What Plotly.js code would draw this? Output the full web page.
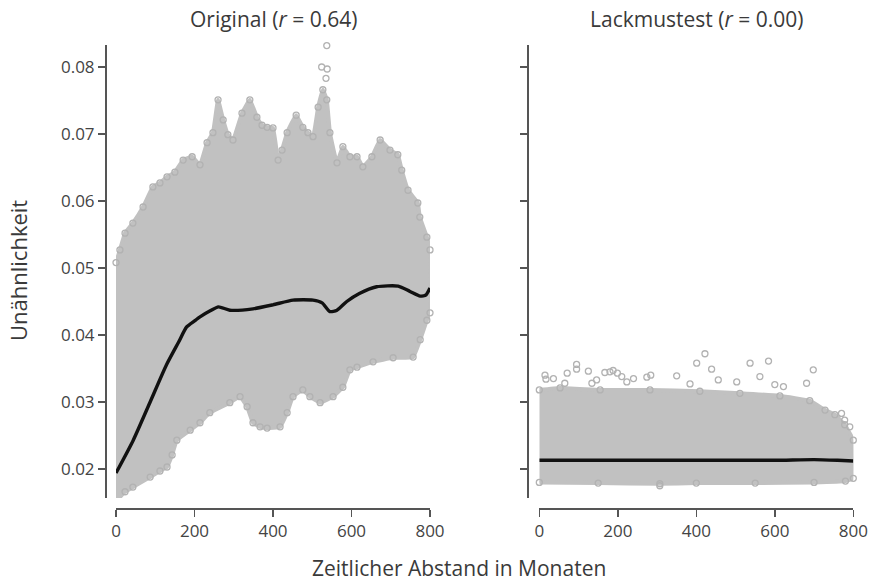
<!DOCTYPE html>
<html>
<head>
<meta charset="utf-8">
<script src="https://cdn.plot.ly/plotly-3.0.1.min.js"></script>
<style>
  html, body { margin: 0; padding: 0; background: #fff; }
  #chart { width: 869px; height: 585px; }
</style>
</head>
<body>
<div id="chart"></div>
<script>
// ---- Original: outline of the point cloud, smoothed trend and stray points ----
const origUpperX = [0, 10, 23, 43, 69, 94, 112, 130, 150, 171, 194, 214, 232, 247, 260, 273, 285, 298, 321, 341,
  359, 372, 385, 400, 413, 423, 436, 459, 476, 489, 502, 515, 527, 537, 545, 563, 578, 596, 614, 629,
  652, 673, 698, 718, 728, 744, 769, 774, 792, 800];
const origUpperY = [0.0508, 0.0527, 0.0552, 0.0567, 0.0591, 0.0621, 0.0627, 0.0636, 0.0643, 0.0661,
  0.0666, 0.0654, 0.0687, 0.0702, 0.0751, 0.0721, 0.0699, 0.0691, 0.0731, 0.0751,
  0.0725, 0.0713, 0.0710, 0.0709, 0.0661, 0.0676, 0.0702, 0.0728, 0.0710, 0.0702,
  0.0696, 0.0740, 0.0766, 0.0751, 0.0702, 0.0657, 0.0681, 0.0666, 0.0666, 0.0651,
  0.0666, 0.0691, 0.0676, 0.0669, 0.0646, 0.0616, 0.0597, 0.0576, 0.0546, 0.0527];
const origLowerX = [0, 3, 23, 43, 87, 112, 130, 143, 155, 189, 214, 239, 290, 316, 334, 349, 367, 385, 418, 436,
  451, 476, 494, 520, 553, 578, 596, 614, 655, 706, 757, 775, 792, 800];
const origLowerY = [0.0154, 0.0154, 0.0166, 0.0173, 0.0188, 0.0197, 0.0203, 0.0221, 0.0243, 0.0258,
  0.0269, 0.0284, 0.0299, 0.0308, 0.0293, 0.0269, 0.0263, 0.0261, 0.0263, 0.0284,
  0.0308, 0.0318, 0.0308, 0.0299, 0.0308, 0.0322, 0.0348, 0.0352, 0.0360, 0.0366,
  0.0367, 0.0393, 0.0422, 0.0433];
const origTrendX = [0, 44, 87, 129, 160, 180, 200, 214, 240, 261, 290, 349, 400, 451, 502, 525, 545, 563, 588, 620,
  664, 719, 749, 775, 790, 800];
const origTrendY = [0.0194, 0.0243, 0.0300, 0.0356, 0.0390, 0.0412, 0.0421, 0.0427, 0.0436, 0.0442,
  0.0437, 0.0439, 0.0445, 0.0452, 0.0452, 0.0448, 0.0435, 0.0437, 0.0450, 0.0462,
  0.0472, 0.0473, 0.0465, 0.0458, 0.0460, 0.0470];
const origStrayX = [537, 524, 538, 535];
const origStrayY = [0.0832, 0.0800, 0.0797, 0.0783];

// ---- Lackmustest (shuffled data) ----
const testUpperX = [0, 53, 155, 282, 409, 511, 613, 689, 728, 753, 778, 800];
const testUpperY = [0.0318, 0.0321, 0.0318, 0.0318, 0.0316, 0.0313, 0.0309, 0.0302, 0.0288, 0.0281, 0.0266, 0.0243];
const testLowerX = [0, 150, 307, 400, 550, 700, 780, 800];
const testLowerY = [0.0180, 0.0179, 0.0178, 0.0179, 0.0179, 0.0180, 0.0182, 0.0186];
const testTrendX = [0, 200, 400, 600, 700, 760, 800];
const testTrendY = [0.0213, 0.0213, 0.0213, 0.0213, 0.0214, 0.0213, 0.0212];
const testStrayX = [14.5, 17, 36, 71, 95, 95, 125, 167, 180, 188, 199, 210, 223, 240, 274, 284, 350, 384, 401, 422,
  439, 456, 503, 537, 562, 584, 600, 622, 681, 698, 134, 146, 65, 770, 778, 791, 307];
const testStrayY = [0.0340, 0.0334, 0.0335, 0.0343, 0.0356, 0.0349, 0.0346, 0.0344, 0.0345, 0.0347,
  0.0343, 0.0338, 0.0330, 0.0335, 0.0337, 0.0340, 0.0339, 0.0327, 0.0358, 0.0372,
  0.0349, 0.0333, 0.0330, 0.0358, 0.0338, 0.0361, 0.0326, 0.0323, 0.0328, 0.0348,
  0.0328, 0.0333, 0.0328, 0.0283, 0.0273, 0.0263, 0.0175];

// ---- axes ----
const xTicks = [0, 200, 400, 600, 800];
const yTicks = [0.02, 0.03, 0.04, 0.05, 0.06, 0.07, 0.08];
const yRange = [0.01567, 0.08328];
const xRange = [0, 800];

const FONT = 'Open Sans, Noto Sans, sans-serif';
const W = 869, H = 585;
const fx = p => p / W;       // pixel -> paper x
const fy = p => 1 - p / H;   // pixel -> paper y

const CLOUD = '#c1c1c1';
const RING = '#b2b2b2';

function panelTraces(upX, upY, loX, loY, trX, trY, stX, stY, xa, ya) {
  const polyX = upX.concat(loX.slice().reverse());
  const polyY = upY.concat(loY.slice().reverse());
  return [
    { // dense body of the cloud
      x: polyX, y: polyY, xaxis: xa, yaxis: ya,
      type: 'scatter', mode: 'lines', fill: 'toself',
      fillcolor: CLOUD, line: { width: 4, color: CLOUD, shape: 'spline', smoothing: 0.3 }, hoverinfo: 'skip'
    },
    { // individual circles along the edge and stray points
      x: upX.concat(loX, stX), y: upY.concat(loY, stY), xaxis: xa, yaxis: ya,
      type: 'scatter', mode: 'markers', cliponaxis: false,
      marker: { symbol: 'circle-open', size: 6, color: RING, line: { width: 1.3, color: RING } },
      hoverinfo: 'skip'
    },
    { // smoothed trend
      x: trX, y: trY, xaxis: xa, yaxis: ya,
      type: 'scatter', mode: 'lines', cliponaxis: false,
      line: { color: '#111111', width: 3.4, shape: 'spline', smoothing: 0.6 },
      hoverinfo: 'skip'
    }
  ];
}

const data = [].concat(
  panelTraces(origUpperX, origUpperY, origLowerX, origLowerY, origTrendX, origTrendY, origStrayX, origStrayY, 'x', 'y'),
  panelTraces(testUpperX, testUpperY, testLowerX, testLowerY, testTrendX, testTrendY, testStrayX, testStrayY, 'x2', 'y2')
);

const axisBase = {
  showline: true, linecolor: '#555555', linewidth: 2,
  ticks: 'outside', ticklen: 7, tickwidth: 1.5, tickcolor: '#555555',
  showgrid: false, zeroline: false, fixedrange: true,
  tickfont: { family: FONT, size: 17, color: '#444444' }
};

const layout = {
  width: W, height: H,
  margin: { l: 0, r: 0, t: 0, b: 0 },
  paper_bgcolor: '#ffffff', plot_bgcolor: 'rgba(0,0,0,0)',
  showlegend: false,
  font: { family: FONT, color: '#3a3a3a' },
  xaxis: Object.assign({}, axisBase, {
    domain: [fx(116), fx(430)], range: xRange, tickvals: xTicks,
    anchor: 'free', position: fy(509)
  }),
  yaxis: Object.assign({}, axisBase, {
    domain: [fy(498), fy(45)], range: yRange, tickvals: yTicks, tickformat: '.2f',
    anchor: 'free', position: fx(106)
  }),
  xaxis2: Object.assign({}, axisBase, {
    domain: [fx(539.3), fx(853.3)], range: xRange, tickvals: xTicks,
    anchor: 'free', position: fy(509)
  }),
  yaxis2: Object.assign({}, axisBase, {
    domain: [fy(498), fy(45)], range: yRange, tickvals: yTicks, showticklabels: false,
    anchor: 'free', position: fx(528)
  }),
  annotations: [
    { text: 'Original (<i>r</i> = 0.64)', x: fx(273), y: fy(19), xref: 'paper', yref: 'paper',
      showarrow: false, xanchor: 'center', yanchor: 'middle', font: { family: FONT, size: 21, color: '#3a3a3a' } },
    { text: 'Lackmustest (<i>r</i> = 0.00)', x: fx(696), y: fy(19), xref: 'paper', yref: 'paper',
      showarrow: false, xanchor: 'center', yanchor: 'middle', font: { family: FONT, size: 21, color: '#3a3a3a' } },
    { text: 'Zeitlicher Abstand in Monaten', x: fx(459), y: fy(583), xref: 'paper', yref: 'paper',
      showarrow: false, xanchor: 'center', yanchor: 'bottom', borderpad: 0,
      font: { family: FONT, size: 21, color: '#3a3a3a' } },
    { text: 'Unähnlichkeit', x: fx(18), y: fy(271), xref: 'paper', yref: 'paper', textangle: -90,
      showarrow: false, xanchor: 'center', yanchor: 'middle', font: { family: FONT, size: 22, color: '#3a3a3a' } }
  ]
};

Plotly.newPlot('chart', data, layout, { staticPlot: true, displayModeBar: false });
</script>
</body>
</html>
